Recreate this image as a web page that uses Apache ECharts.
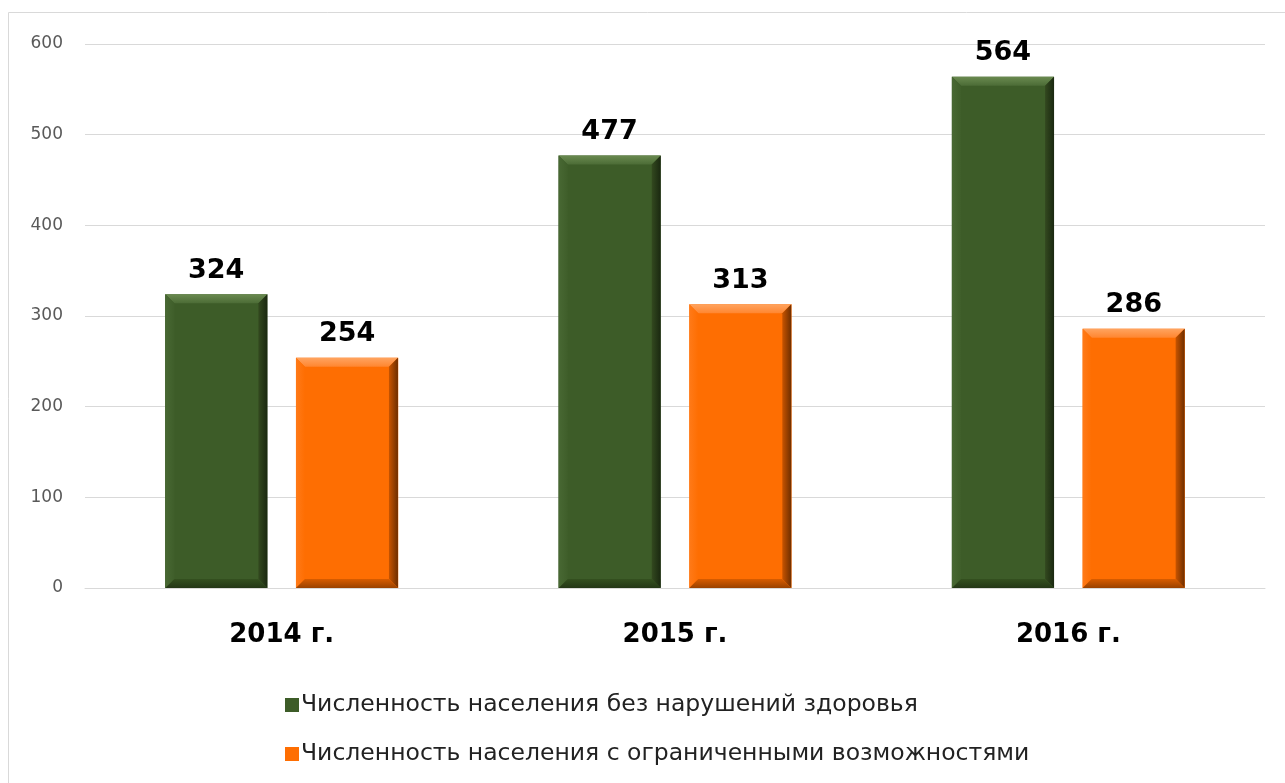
<!DOCTYPE html>
<html>
<head>
<meta charset="utf-8">
<script src="https://cdn.jsdelivr.net/npm/echarts@6/dist/echarts.min.js"></script>
<style>
  html, body { margin: 0; padding: 0; background: #fff; }
  #chart { width: 1285px; height: 783px; }
</style>
</head>
<body>
<div id="chart"></div>
<script>
const years = ["2014 г.", "2015 г.", "2016 г."];
const healthy = [324, 477, 564];
const limited = [254, 313, 286];
const seriesNames = [
  "Численность населения без нарушений здоровья",
  "Численность населения с ограниченными возможностями"
];

const BAR_RATIO = 0.26;
const GAP_RATIO = 0.28;

const chart = echarts.init(document.getElementById("chart"));

const grad = (x2, y2, c1, c2) => ({
  type: "linear", x: 0, y: 0, x2, y2,
  colorStops: [{ offset: 0, color: c1 }, { offset: 1, color: c2 }]
});

// draws the bevelled edges over the plain bars
const bevelItem = (slot, shades) => (params, api) => {
  const cat = api.value(0);
  const base = api.coord([cat, 0]);
  const top = api.coord([cat, api.value(1)]);
  const band = api.size([1, 0])[0];
  const bw = Math.round(band * BAR_RATIO);
  const total = bw * (2 + GAP_RATIO);
  const x0 = base[0] - total / 2 + slot * bw * (1 + GAP_RATIO);
  const x1 = x0 + bw;
  const y0 = top[1];
  const y1 = base[1];
  const b = 9;
  const poly = (points, fill) => ({
    type: "polygon",
    shape: { points },
    style: { fill }
  });
  return {
    type: "group",
    children: [
      poly([[x0, y0], [x1, y0], [x1 - b, y0 + b], [x0 + b, y0 + b]], grad(0, 1, shades.top[0], shades.top[1])),
      poly([[x0, y0], [x0 + b, y0 + b], [x0 + b, y1 - b], [x0, y1]], grad(1, 0, shades.left[0], shades.left[1])),
      poly([[x1, y0], [x1, y1], [x1 - b, y1 - b], [x1 - b, y0 + b]], grad(1, 0, shades.right[0], shades.right[1])),
      poly([[x0, y1], [x0 + b, y1 - b], [x1 - b, y1 - b], [x1, y1]], grad(0, 1, shades.bottom[0], shades.bottom[1]))
    ]
  };
};

const labelStyle = {
  show: true,
  position: "top",
  distance: 10,
  color: "#000",
  fontSize: 27,
  fontWeight: "bold",
  fontFamily: "DejaVu Sans"
};

chart.setOption({
  animation: false,
  textStyle: { fontFamily: "DejaVu Sans" },
  graphic: [{
    type: "rect",
    shape: { x: 8.5, y: 12.5, width: 1300, height: 800 },
    style: { fill: "none", stroke: "#d9d9d9", lineWidth: 1 },
    silent: true
  }],
  grid: { left: 85, right: 20, top: 44, bottom: 195 },
  legend: {
    orient: "vertical",
    left: 280,
    top: 688,
    itemGap: 25,
    itemWidth: 14,
    itemHeight: 14,
    icon: "rect",
    data: seriesNames,
    textStyle: { fontSize: 23.5, color: "#222", fontFamily: "DejaVu Sans", padding: [0, 0, 0, -3] }
  },
  xAxis: {
    type: "category",
    data: years,
    axisLine: { lineStyle: { color: "#d9d9d9", width: 1 } },
    axisTick: { show: false },
    axisLabel: {
      margin: 34,
      color: "#000",
      fontSize: 26,
      fontWeight: "bold",
      fontFamily: "DejaVu Sans"
    }
  },
  yAxis: {
    type: "value",
    min: 0,
    max: 600,
    interval: 100,
    axisLine: { show: false },
    axisTick: { show: false },
    splitLine: { lineStyle: { color: "#d9d9d9", width: 1 } },
    axisLabel: { margin: 22, color: "#595959", fontSize: 17, fontFamily: "DejaVu Sans" }
  },
  series: [
    {
      name: seriesNames[0],
      type: "bar",
      data: healthy,
      barWidth: (BAR_RATIO * 100) + "%",
      barGap: (GAP_RATIO * 100) + "%",
      itemStyle: { color: "#3d5c28" },
      label: labelStyle
    },
    {
      name: seriesNames[1],
      type: "bar",
      data: limited,
      barWidth: (BAR_RATIO * 100) + "%",
      itemStyle: { color: "#fe6e02" },
      label: labelStyle
    },
    {
      name: "bevel-green",
      type: "custom",
      silent: true,
      z: 5,
      data: healthy.map((v, i) => [i, v]),
      renderItem: bevelItem(0, {
        top: ["#6a8a50", "#4c6c36"],
        left: ["#486833", "#3f5e2a"],
        right: ["#33491f", "#1a2810"],
        bottom: ["#34501f", "#243716"]
      })
    },
    {
      name: "bevel-orange",
      type: "custom",
      silent: true,
      z: 5,
      data: limited.map((v, i) => [i, v]),
      renderItem: bevelItem(1, {
        top: ["#ffa460", "#ff8630"],
        left: ["#ff7a18", "#fe6e02"],
        right: ["#c85400", "#6e2e00"],
        bottom: ["#d85c00", "#9a4200"]
      })
    }
  ]
});
</script>
</body>
</html>
